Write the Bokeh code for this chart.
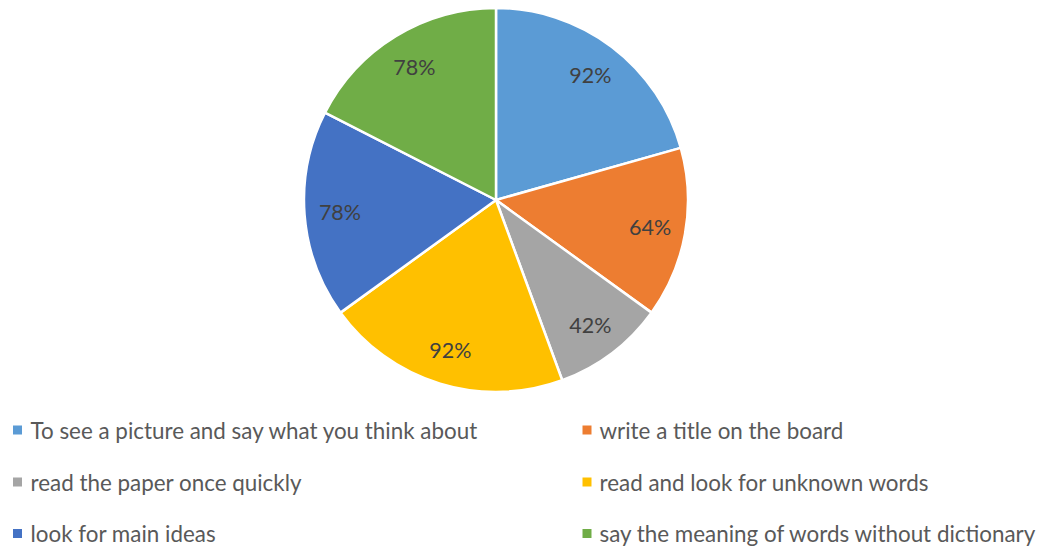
import math
from bokeh.plotting import figure
from bokeh.models import Range1d, ColumnDataSource
from bokeh.core.properties import value
from bokeh.embed import file_html
from bokeh.resources import INLINE

categories = [
    "To see a picture and say what you think about",
    "write a title on the board",
    "read the paper once quickly",
    "read and look for unknown words",
    "look for main ideas",
    "say the meaning of words without dictionary",
]
percent = [92, 64, 42, 92, 78, 78]
colors = ["#5B9BD5", "#ED7D31", "#A5A5A5", "#FFC000", "#4472C4", "#70AD47"]

W, H = 1042, 548
FONT = "Lato"

p = figure(width=W, height=H, output_backend="svg", toolbar_location=None,
           x_range=Range1d(0, W), y_range=Range1d(0, H),
           min_border=0, min_border_left=0, min_border_right=0,
           min_border_top=0, min_border_bottom=0)
p.axis.visible = False
p.grid.visible = False
p.outline_line_color = None
p.background_fill_color = "white"
p.border_fill_color = "white"

# picture coords (top-left origin) -> data coords
def sx(x):
    return x
def sy(y):
    return H - y

cx, cy, r = sx(495.5), sy(199.5), 192

total = float(sum(percent))
starts, ends, mids = [], [], []
a = math.pi / 2
for v in percent:
    span = v / total * 2 * math.pi
    starts.append(a - span)
    ends.append(a)
    mids.append(a - span / 2)
    a -= span

src = ColumnDataSource(dict(start=starts, end=ends, color=colors))
p.wedge(x=cx, y=cy, radius=r, start_angle="start", end_angle="end",
        fill_color="color", line_color="white", line_width=2.5, source=src)

lr = 0.815 * r
p.text(x=[cx + lr * math.cos(m) for m in mids],
       y=[cy + lr * math.sin(m) for m in mids],
       text=[f"{v}%" for v in percent],
       text_font=value(FONT), text_font_size="21.5px", text_color="#404040",
       text_align="center", text_baseline="middle")

# legend (two columns, three rows)
col_marker_x = [17, 586.5]
col_text_x = [30, 599]
row_y = [429.5, 481.5, 533]
lx, ly, tx = [], [], []
for i in range(len(categories)):
    c, rw = i % 2, i // 2
    lx.append(sx(col_marker_x[c]))
    ly.append(sy(row_y[rw]))
    tx.append(sx(col_text_x[c]))
p.rect(x=lx, y=ly, width=9, height=9, fill_color=colors, line_color=None)
p.text(x=tx, y=ly, text=categories, text_font=value(FONT),
       text_font_size="22.4px", text_color="#595959",
       text_align="left", text_baseline="middle")

open("out.html", "w").write(file_html(p, INLINE))
